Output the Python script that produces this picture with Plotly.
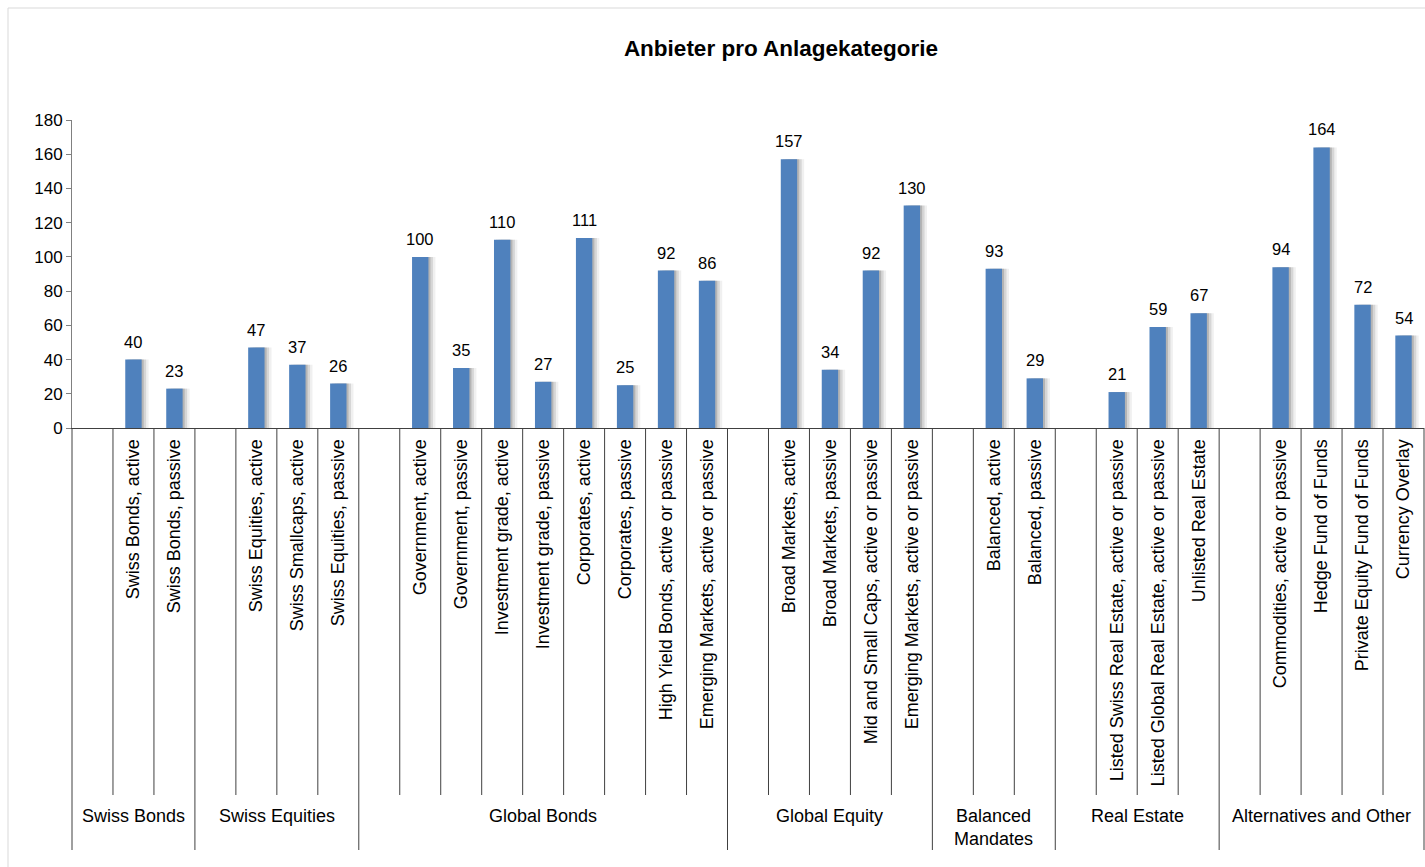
import plotly.graph_objects as go

# ---------------- data ----------------
groups = ["Swiss Bonds", "Swiss Equities", "Global Bonds", "Global Equity",
          "Balanced<br>Mandates", "Real Estate", "Alternatives and Other"]

swiss_bonds_labels = ["Swiss Bonds, active", "Swiss Bonds, passive"]
swiss_bonds_values = [40, 23]

swiss_equities_labels = ["Swiss Equities, active", "Swiss Smallcaps, active", "Swiss Equities, passive"]
swiss_equities_values = [47, 37, 26]

global_bonds_labels = ["Government, active", "Government, passive", "Investment grade, active",
                       "Investment grade, passive", "Corporates, active", "Corporates, passive",
                       "High Yield Bonds, active or passive", "Emerging Markets, active or passive"]
global_bonds_values = [100, 35, 110, 27, 111, 25, 92, 86]

global_equity_labels = ["Broad Markets, active", "Broad Markets, passive",
                        "Mid and Small Caps, active or passive", "Emerging Markets, active or passive"]
global_equity_values = [157, 34, 92, 130]

balanced_labels = ["Balanced, active", "Balanced, passive"]
balanced_values = [93, 29]

real_estate_labels = ["Listed Swiss Real Estate, active or passive",
                      "Listed Global Real Estate, active or passive", "Unlisted Real Estate"]
real_estate_values = [21, 59, 67]

alternatives_labels = ["Commodities, active or passive", "Hedge Fund of Funds",
                       "Private Equity Fund of Funds", "Currency Overlay"]
alternatives_values = [94, 164, 72, 54]

group_labels = [swiss_bonds_labels, swiss_equities_labels, global_bonds_labels, global_equity_labels,
                balanced_labels, real_estate_labels, alternatives_labels]
group_values = [swiss_bonds_values, swiss_equities_values, global_bonds_values, global_equity_values,
                balanced_values, real_estate_values, alternatives_values]

# ---------------- layout of slots (one empty slot at each group start) ----------------
xs, ys, names = [], [], []
group_spans = []
pos = 0
for labs, vals in zip(group_labels, group_values):
    start = pos
    pos += 1  # empty slot
    for l, v in zip(labs, vals):
        xs.append(pos)
        ys.append(v)
        names.append(l)
        pos += 1
    group_spans.append((start, pos))
n_slots = pos

FONT = "Liberation Sans, Arial, sans-serif"
W, H = 1425, 867
L, R, T, B = 72, 1, 120, 439
plot_h = H - T - B

def py(pixel_y):
    return (H - B - pixel_y) / plot_h

fig = go.Figure()

# soft shadow layers
for shift, alpha in [(0.17, 0.08), (0.11, 0.14), (0.05, 0.22)]:
    fig.add_trace(go.Bar(x=xs, y=ys, width=0.4, offset=-0.2 + shift,
                         marker=dict(color=f"rgba(60,60,60,{alpha})", line=dict(width=0)),
                         hoverinfo="skip", showlegend=False))

fig.add_trace(go.Bar(x=xs, y=ys, width=0.4, offset=-0.2,
                     marker=dict(color="#4F81BD", line=dict(width=0)),
                     showlegend=False))

annotations = []
for x, y in zip(xs, ys):
    annotations.append(dict(x=x, y=y, xref="x", yref="y", text=str(y), showarrow=False,
                            yanchor="bottom", yshift=7, font=dict(family=FONT, size=16.5, color="#000")))

for (s, e), g in zip(group_spans, groups):
    annotations.append(dict(x=(s + e) / 2 / n_slots, y=py(804), xref="paper", yref="paper",
                            text=g, showarrow=False, yanchor="top", xanchor="center",
                            font=dict(family=FONT, size=18, color="#000")))

shapes = []
group_edges = set()
for s, e in group_spans:
    group_edges.add(s)
    group_edges.add(e)
for j in range(n_slots + 1):
    long = j in group_edges
    shapes.append(dict(type="line", xref="paper", yref="paper",
                       x0=j / n_slots, x1=j / n_slots, y0=0, y1=py(850 if long else 795),
                       line=dict(color="#404040", width=1)))

# outer chart border
shapes.append(dict(type="rect", xref="paper", yref="paper",
                   x0=(8 - L) / (W - L - R), x1=(W + 10 - L) / (W - L - R),
                   y0=py(870), y1=py(8), line=dict(color="#D9D9D9", width=1)))

fig.update_layout(
    width=W, height=H,
    margin=dict(l=L, r=R, t=T, b=B),
    paper_bgcolor="white", plot_bgcolor="white",
    barmode="overlay",
    title=dict(text="<b>Anbieter pro Anlagekategorie</b>", xref="container", yref="container",
               x=781 / W, y=1 - 48 / H, xanchor="center", yanchor="middle",
               font=dict(family=FONT, size=22.5, color="#000")),
    xaxis=dict(range=[-0.5, n_slots - 0.5], tickmode="array", tickvals=xs, ticktext=names,
               tickangle=-90, ticks="", showgrid=False, zeroline=False,
               showline=True, linecolor="#404040", linewidth=1,
               tickfont=dict(family=FONT, size=18, color="#000"), ticklabelstandoff=3),
    yaxis=dict(range=[0, 180], dtick=20, ticks="outside", ticklen=5, tickcolor="#808080",
               showline=True, linecolor="#808080", linewidth=1, showgrid=False, zeroline=False,
               tickfont=dict(family=FONT, size=17, color="#000")),
    annotations=annotations,
    shapes=shapes,
    font=dict(family=FONT),
)

fig.write_html("out.html", config={"displayModeBar": False},
               post_script="document.body.style.margin='0';document.body.style.overflow='hidden';")
